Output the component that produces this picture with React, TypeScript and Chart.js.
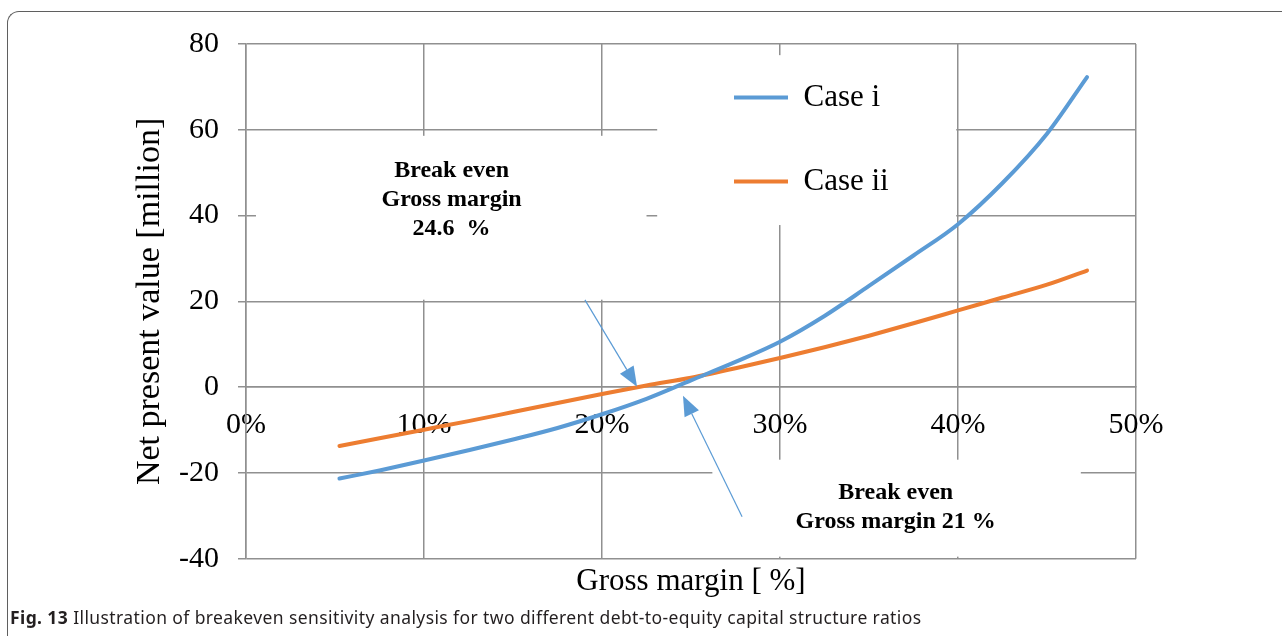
import React, { useEffect, useRef } from 'react';
import { Chart, registerables } from 'chart.js';

Chart.register(...registerables);

const serif = '"Liberation Serif", "Times New Roman", serif';

// ---- data ----
const grossMargin = [5.25, 7.5, 10, 12.5, 15, 17.5, 20, 22.5, 25, 27.5, 30, 32.5, 35, 37.5, 40, 42.5, 45, 47.25];
const caseI = [-21.3, -19.4, -17.1, -14.7, -12.2, -9.5, -6.3, -2.7, 1.6, 5.9, 10.6, 16.6, 23.6, 30.7, 38.0, 47.6, 59.1, 72.3];
const caseII = [-13.7, -11.9, -9.9, -7.9, -5.8, -3.7, -1.6, 0.4, 2.2, 4.4, 6.8, 9.3, 12.0, 14.9, 17.9, 20.9, 23.9, 27.2];
const seriesLabels = ['Case i', 'Case ii'];
const seriesColors = ['#5B9BD5', '#ED7D31'];
const xTickValues = [0, 10, 20, 30, 40, 50];
const yTickValues = [-40, -20, 0, 20, 40, 60, 80];
const yTitle = 'Net present value [million]';
const xTitle = 'Gross margin [ %]';
const noteTopLines = ['Break even', 'Gross margin', '24.6  %'];
const noteBottomLines = ['Break even', 'Gross margin 21 %'];
const captionBold = 'Fig. 13';
const captionText = 'Illustration of breakeven sensitivity analysis for two different debt-to-equity capital structure ratios';

// ---- annotation layout, in data units ----
const annoLayout = {
  boxes: [
    { x0: 0.56, x1: 22.5, y0: 58.6, y1: 20.4 },
    { x0: 23.1, x1: 39.9, y0: 77.4, y1: 37.8 },
    { x0: 26.2, x1: 46.9, y0: -16.9, y1: -39.5 },
  ],
  topText: { x: 11.55, y: [50.4, 43.7, 36.9] },
  bottomText: { x: 36.5, y: [-24.6, -31.4] },
  arrows: [
    { from: [19.04, 20.35], to: [21.97, 0.1] },
    { from: [27.87, -30.2], to: [24.55, -2.0] },
  ],
};

function drawArrow(ctx: CanvasRenderingContext2D, x1: number, y1: number, x2: number, y2: number) {
  const dx = x2 - x1, dy = y2 - y1;
  const len = Math.hypot(dx, dy);
  const ux = dx / len, uy = dy / len;
  const hl = 20, hw = 8;
  const bx = x2 - ux * hl, by = y2 - uy * hl;
  ctx.beginPath();
  ctx.moveTo(x1, y1);
  ctx.lineTo(bx, by);
  ctx.stroke();
  ctx.beginPath();
  ctx.moveTo(x2, y2);
  ctx.lineTo(bx - uy * hw, by + ux * hw);
  ctx.lineTo(bx + uy * hw, by - ux * hw);
  ctx.closePath();
  ctx.fill();
}

const notesPlugin = {
  id: 'notes',
  beforeDraw(chart: any) {
    const lg = chart.legend;
    if (lg) {
      lg.left = 681;
      lg.top = 29;
      lg.right = 1000;
      lg.bottom = 320;
      lg.width = lg.right - lg.left;
      lg.height = lg.bottom - lg.top;
    }
  },
  beforeDatasetsDraw(chart: any) {
    const { ctx, scales } = chart;
    const x = scales.x, y = scales.y;
    ctx.save();
    ctx.fillStyle = '#ffffff';
    for (const b of annoLayout.boxes) {
      const px0 = x.getPixelForValue(b.x0), px1 = x.getPixelForValue(b.x1);
      const py0 = y.getPixelForValue(b.y0), py1 = y.getPixelForValue(b.y1);
      ctx.fillRect(px0, py0, px1 - px0, py1 - py0);
    }
    ctx.restore();
    if (chart.legend) chart.legend.draw();
    ctx.save();
    ctx.fillStyle = '#000';
    ctx.font = `bold 24px ${serif}`;
    ctx.textAlign = 'center';
    ctx.textBaseline = 'middle';
    noteTopLines.forEach((t, i) => {
      ctx.fillText(t, x.getPixelForValue(annoLayout.topText.x), y.getPixelForValue(annoLayout.topText.y[i]));
    });
    noteBottomLines.forEach((t, i) => {
      ctx.fillText(t, x.getPixelForValue(annoLayout.bottomText.x), y.getPixelForValue(annoLayout.bottomText.y[i]));
    });
    ctx.restore();
  },
  afterDatasetsDraw(chart: any) {
    const { ctx, scales } = chart;
    const x = scales.x, y = scales.y;
    ctx.save();
    ctx.strokeStyle = seriesColors[0];
    ctx.fillStyle = seriesColors[0];
    ctx.lineWidth = 1.2;
    for (const a of annoLayout.arrows) {
      drawArrow(
        ctx,
        x.getPixelForValue(a.from[0]), y.getPixelForValue(a.from[1]),
        x.getPixelForValue(a.to[0]), y.getPixelForValue(a.to[1])
      );
    }
    ctx.restore();
  },
};

export default function App() {
  const ref = useRef<HTMLCanvasElement | null>(null);

  useEffect(() => {
    if (!ref.current) return;
    const gridColor = '#909090';
    const chart = new Chart(ref.current, {
      type: 'line',
      data: {
        datasets: [caseI, caseII].map((vals, i) => ({
          label: seriesLabels[i],
          data: grossMargin.map((g, k) => ({ x: g, y: vals[k] })),
          borderColor: seriesColors[i],
          backgroundColor: seriesColors[i],
          borderWidth: 4,
          pointRadius: 0,
          pointStyle: 'line',
          fill: false,
          cubicInterpolationMode: 'monotone' as const,
          borderCapStyle: 'round' as const,
          borderJoinStyle: 'round' as const,
        })),
      },
      options: {
        animation: false,
        responsive: false,
        devicePixelRatio: 1,
        events: [],
        layout: { padding: { left: 0, top: 44, right: 146, bottom: 36 } },
        plugins: {
          tooltip: { enabled: false },
          legend: {
            position: 'chartArea',
            align: 'start',
            labels: {
              usePointStyle: true,
              pointStyle: 'line',
              pointStyleWidth: 54,
              padding: 53,
              color: '#000',
              font: { family: serif, size: 31 },
            },
          },
        },
        scales: {
          x: {
            type: 'linear',
            position: { y: 0 } as any,
            min: 0,
            max: 50,
            afterBuildTicks: (s: any) => { s.ticks = xTickValues.map((v) => ({ value: v })); },
            grid: { color: gridColor, lineWidth: 1.5, drawTicks: false },
            border: { display: true, color: gridColor, width: 1.5 },
            ticks: {
              autoSkip: false,
              maxRotation: 0,
              padding: 20,
              color: '#000',
              font: { family: serif, size: 30 },
              callback: (v: any) => `${v}%`,
            },
          },
          xb: {
            type: 'linear',
            axis: 'x',
            position: 'bottom',
            min: 0,
            max: 50,
            grid: { display: false, drawTicks: false },
            border: { display: false },
            ticks: { display: false },
            title: {
              display: true,
              text: xTitle,
              color: '#000',
              font: { family: serif, size: 31 },
              padding: { top: 4, bottom: 0 },
            },
          },
          y: {
            type: 'linear',
            position: 'left',
            min: -40,
            max: 80,
            afterBuildTicks: (s: any) => { s.ticks = yTickValues.map((v) => ({ value: v })); },
            afterFit: (s: any) => { s.width = 246; },
            grid: { color: gridColor, lineWidth: 1.5, tickLength: 8 },
            border: { display: true, color: gridColor, width: 1.5 },
            ticks: {
              padding: 19,
              color: '#000',
              font: { family: serif, size: 30 },
            },
            title: {
              display: true,
              text: yTitle,
              color: '#000',
              font: { family: serif, size: 34 },
              padding: { top: 130, bottom: 0 },
            },
          },
        } as any,
      },
      plugins: [notesPlugin],
    });
    return () => chart.destroy();
  }, []);

  return (
    <div style={{ position: 'fixed', left: 0, top: 0, width: 1282, height: 636, background: '#fff', overflow: 'hidden' }}>
      <div
        style={{
          position: 'absolute', left: 7, top: 11, width: 1320, height: 700,
          borderTop: '1.5px solid #5f5f5f', borderLeft: '1.5px solid #5f5f5f',
          borderTopLeftRadius: 12, boxSizing: 'border-box',
        }}
      />
      <canvas ref={ref} width={1282} height={636} style={{ position: 'absolute', left: 0, top: 0 }} />
      <div
        style={{
          position: 'absolute', left: 10, top: 605, whiteSpace: 'nowrap',
          fontFamily: '"Noto Sans", "Open Sans", sans-serif', fontSize: 17.5, letterSpacing: 0.4,
          color: '#231f20',
        }}
      >
        <b>{captionBold}</b>{'  '}{captionText}
      </div>
    </div>
  );
}
